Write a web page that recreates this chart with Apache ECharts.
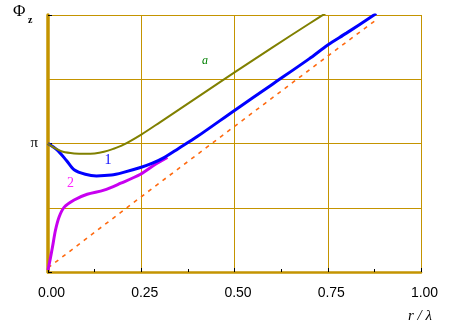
<!DOCTYPE html>
<html>
<head>
<meta charset="utf-8">
<script src="https://cdn.jsdelivr.net/npm/echarts@6/dist/echarts.min.js"></script>
<style>
html,body{margin:0;padding:0;background:#fff;}
#chart{width:453px;height:335px;}
</style>
</head>
<body>
<div id="chart"></div>
<script>
const PI = Math.PI;
// x: r / lambda, y: Phi_z (radians)
const curveA_r = [0, 0.02, 0.04, 0.07, 0.10, 0.125, 0.15, 0.175, 0.20, 0.25, 0.30, 0.40, 0.50, 0.60, 0.70, 0.745];
const curveA_v = [3.14, 3.02, 2.94, 2.90, 2.89, 2.90, 2.94, 3.01, 3.10, 3.36, 3.66, 4.27, 4.88, 5.48, 6.07, 6.33];

const curve1_r = [0, 0.025, 0.05, 0.07, 0.10, 0.13, 0.17, 0.20, 0.25, 0.28, 0.31, 0.35, 0.40, 0.50, 0.60, 0.70, 0.75, 0.80, 0.88];
const curve1_v = [3.14, 2.98, 2.72, 2.50, 2.39, 2.35, 2.37, 2.43, 2.56, 2.66, 2.79, 3.02, 3.31, 3.95, 4.58, 5.21, 5.55, 5.84, 6.32];

const curve2_r = [0, 0.006, 0.012, 0.02, 0.03, 0.043, 0.07, 0.105, 0.15, 0.195, 0.248, 0.284, 0.32];
const curve2_v = [0.05, 0.32, 0.61, 1.02, 1.35, 1.58, 1.76, 1.90, 2.00, 2.17, 2.39, 2.61, 2.80];

const kr_r = [0, 0.25, 0.50, 0.75, 0.885];
const kr_v = [0.10, 1.84, 3.56, 5.28, 6.20];

const xTicks = [0, 0.25, 0.5, 0.75, 1.0];
const yLabelPi = 'π';
const curveLabels = [
  {text: 'a', r: 0.421, v: 5.17, color: '#008000', style: 'italic', size: 12},
  {text: '1', r: 0.161, v: 2.72, color: '#0000ff', style: 'normal', size: 14},
  {text: '2', r: 0.060, v: 2.16, color: '#ff22ff', style: 'normal', size: 14}
];

function zip(a, b) { return a.map((x, i) => [x, b[i]]); }

const GOLD = '#c49400';
const chart = echarts.init(document.getElementById('chart'), null, {renderer: 'canvas'});
const option = {
  animation: false,
  backgroundColor: '#ffffff',
  grid: {left: 48, right: 32, top: 15, bottom: 63, containLabel: false},
  xAxis: {
    type: 'value', min: 0, max: 1, interval: 0.25,
    axisLine: {show: true, onZero: false, lineStyle: {color: GOLD, width: 2.5}},
    axisTick: {show: true, inside: true, length: 4, lineStyle: {color: '#000', width: 1}},
    minorTick: {show: true, splitNumber: 2, length: 3, lineStyle: {color: '#000', width: 1}},
    axisLabel: {show: true, margin: 14, padding: [0, 0, 0, 7], color: '#000', fontFamily: 'Liberation Sans', fontSize: 14,
      formatter: v => v.toFixed(2)},
    splitLine: {show: true, lineStyle: {color: GOLD, width: 1}}
  },
  yAxis: {
    type: 'value', min: 0, max: 2 * PI, interval: PI,
    axisLine: {show: true, onZero: false, lineStyle: {color: GOLD, width: 3.5}},
    axisTick: {show: true, inside: true, length: 4, lineStyle: {color: '#000', width: 1}},
    axisLabel: {show: true, margin: 10, color: '#000', fontFamily: 'Liberation Serif', fontSize: 15,
      formatter: v => (Math.abs(v - PI) < 1e-6 ? yLabelPi : '')},
    splitLine: {show: true, lineStyle: {color: GOLD, width: 1}},
    minorTick: {show: false, splitNumber: 2},
    minorSplitLine: {show: true, lineStyle: {color: GOLD, width: 1}}
  },
  series: [
    {type: 'line', data: zip(kr_r, kr_v), showSymbol: false, smooth: false, z: 2,
      lineStyle: {color: '#ff6a10', width: 1.6, type: [4, 5]}},
    {type: 'line', data: zip(curve2_r, curve2_v), showSymbol: false, smooth: 0.3, z: 3,
      lineStyle: {color: '#c800f0', width: 3}},
    {type: 'line', data: zip(curve1_r, curve1_v), showSymbol: false, smooth: 0.3, z: 4,
      lineStyle: {color: '#0000ff', width: 3}},
    {type: 'line', data: zip(curveA_r, curveA_v), showSymbol: false, smooth: 0.3, z: 5,
      lineStyle: {color: '#808000', width: 2}}
  ]
};
chart.setOption(option);

const graphics = [
  {type: 'text', left: 13, top: 3, style: {text: 'Φ', font: '17px "Liberation Serif"', fill: '#000'}},
  {type: 'text', left: 28, top: 15, style: {text: 'z', font: 'bold 10px "Liberation Serif"', fill: '#000'}},
  {type: 'text', left: 408, top: 309, style: {text: 'r / λ', font: 'italic 15px "Liberation Serif"', fill: '#000'}}
];
curveLabels.forEach(l => {
  const p = chart.convertToPixel({gridIndex: 0}, [l.r, l.v]);
  graphics.push({type: 'text', x: p[0], y: p[1], style: {text: l.text, fill: l.color,
    font: l.style + ' ' + l.size + 'px "Liberation Serif"', align: 'center', verticalAlign: 'middle'}});
});
chart.setOption({graphic: graphics});
</script>
</body>
</html>
